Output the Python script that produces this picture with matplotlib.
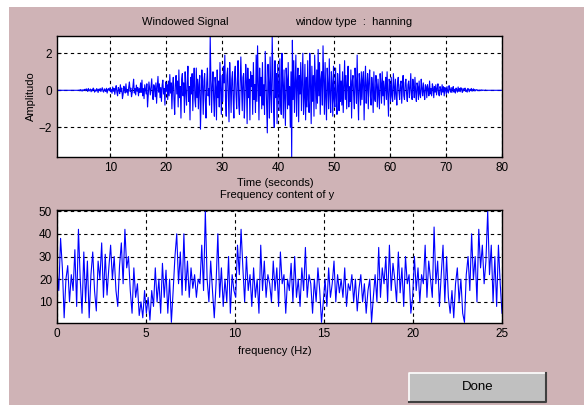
import numpy as np
from matplotlib import pyplot as plt
from matplotlib.patches import Rectangle

#Windowed signal in 5 second blocks (40 samples per block, 0.125 s apart)
amp_blocks = [
    [0] * 32 + [0.02, -0.03, 0.04, 0.01, -0.05, 0.03, -0.02, 0.04],
    [0.05, -0.02, 0.08, 0.03, -0.06, 0.1, -0.04, 0.02, 0.07, -0.08, 0.04, -0.03, 0.12, 0.05, -0.1, 0.02, -0.05, 0.09, 0.03, -0.12,
     0.06, -0.02, 0.1, -0.07, 0.04, 0.14, -0.05, -0.1, 0.08, 0.02, -0.06, 0.11, -0.15, 0.05, 0.09, -0.03, 0.13, -0.08, 0.04, -0.16],
    [0.18, -0.05, 0.1, -0.22, 0.05, 0.25, -0.12, -0.3, 0.15, 0.04, -0.18, 0.3, -0.08, 0.12, -0.45, -0.2, 0.22, 0.08, -0.15, 0.35,
     -0.1, 0.05, -0.28, 0.18, 0.45, -0.06, 0.12, -0.35, -0.12, 0.2, 0.6, -0.15, 0.1, -0.25, 0.28, -0.05, 0.15, -0.3, 0.08, -0.12],
    [0.4, -0.12, 0.55, -0.3, 0.1, -0.45, 0.3, 0.05, -0.2, 0.35, -0.9, -0.3, 0.45, 0.1, -0.25, 0.2, 0.62, -0.15, -0.5, 0.3,
     0.12, -0.35, 0.4, -0.7, 0.2, 0.75, -0.1, 0.35, -0.4, 0.15, -0.6, 0.28, 0.55, -0.2, 0.1, -0.8, 0.45, -0.05, 0.3, -0.5],
    [0.5, -0.3, 0.85, -0.15, 0.4, -1.0, 0.2, 0.7, -0.5, -1.3, 0.35, 0.8, -0.2, 0.5, -0.9, 1.1, -0.4, 0.2, -1.5, 0.6,
     0.9, -0.3, 0.4, -1.2, 1.0, -0.1, -0.8, 0.5, 1.3, -0.6, 0.2, -1.6, 0.7, -0.2, 0.9, -1.1, 0.3, 1.2, -0.5, -0.9],
    [1.2, -0.4, 0.6, -1.0, 0.3, 0.8, -2.1, -0.5, 1.1, 0.2, -1.3, 0.5, 0.9, -0.6, -1.5, 0.4, 1.2, -0.3, 0.1, -0.8,
     2.9, 0.6, -1.2, 0.3, 1.0, -0.5, -1.4, 0.7, 0.2, -1.6, 1.1, -0.4, 0.5, -0.9, 1.5, 0.2, -1.3, 0.8, -0.6, 1.3],
    [0.4, 1.9, -0.6, -1.4, 0.8, 1.2, -0.3, -1.7, 1.5, 0.3, -1.2, 0.6, 1.0, -0.5, -1.5, 0.9, 1.3, -0.2, -1.0, 0.5,
     1.6, -0.8, -1.3, 0.4, 1.8, 0.2, -1.1, 0.7, 0.9, -1.5, -0.3, 1.4, 0.5, -1.8, 1.2, -0.4, 0.6, -1.6, 1.0, 0.2],
    [0.8, -1.3, 1.5, -0.5, 0.3, -1.2, 1.9, -0.6, 2.4, 0.5, -1.6, 1.2, -0.3, 0.7, -1.0, 1.5, -0.8, 0.3, -1.3, 2.1,
     0.6, -0.9, -2.3, 1.4, 0.4, -1.5, 1.8, -0.2, -1.2, 2.9, 0.8, -1.0, -2.0, 1.6, -0.4, 0.9, -1.8, 1.4, 0.2, -1.1],
    [1.7, -0.6, -1.3, 2.0, 0.4, -1.5, 1.1, -0.3, -1.9, 1.2, 0.6, -1.0, 1.5, -0.8, 0.2, -2.0, 1.0, -3.6, 2.7, -0.5,
     1.6, -1.2, 0.3, 1.9, -1.4, 0.5, 1.2, -1.7, 0.8, -0.2, 1.5, -1.1, 0.4, 2.0, -1.3, -0.4, 1.4, -1.6, 0.7, -0.9],
    [1.6, -0.5, -1.2, 2.0, 0.3, -1.8, 1.3, -0.6, 0.8, -1.4, 1.9, 0.4, -1.0, 1.1, -0.7, 2.2, -0.3, 1.5, -1.3, 0.6,
     1.0, -0.8, 2.4, 0.5, -1.3, 1.5, -0.4, -1.6, 1.2, 0.3, -1.0, 1.7, -0.2, -1.2, 1.0, 0.4, -1.4, 1.3, -0.5, -0.9],
    [1.2, -0.4, -1.3, 0.9, 0.2, -1.1, 1.4, -0.6, 0.5, -0.8, 1.0, -1.2, 0.3, 1.6, -0.5, 0.8, -1.0, 0.4, 1.3, -0.9,
     0.2, -0.6, 1.1, -1.5, 0.5, 0.8, -0.3, -1.0, 1.2, 0.4, -0.7, 1.9, -0.2, -1.6, 0.9, 0.3, -0.8, 1.0, -0.5, 0.6],
    [1.0, -1.6, 0.4, 1.3, -0.7, 0.2, 0.9, -1.0, 0.5, 1.1, -0.3, -0.8, 0.7, 0.2, -1.2, 1.0, -0.4, -0.6, 0.8, 0.3,
     -0.9, 0.6, -0.2, -1.0, 0.9, 0.4, -0.7, 1.0, -0.3, 0.5, -0.8, 0.2, 0.7, -0.5, 1.0, -0.2, -1.4, 0.6, 0.3, -0.6],
    [0.7, -0.3, -0.6, 0.9, 0.2, -0.5, 0.6, -0.2, -0.8, 0.4, 0.7, -0.1, -0.5, 0.3, 0.5, -0.7, 0.2, 0.8, -0.3, -0.5,
     0.4, 0.6, -0.2, -0.6, 0.3, 0.5, -0.4, 0.1, 0.9, -0.3, -0.5, 0.6, 0.2, -0.4, 0.7, -0.1, -0.6, 0.4, 0.2, -0.5],
    [0.5, -0.2, -0.4, 0.6, 0.1, -0.3, 0.4, -0.1, -0.5, 0.3, 0.2, -0.4, 0.3, 0.05, -0.3, 0.5, -0.2, 0.1, -0.3, 0.35,
     0.15, -0.4, 0.2, -0.1, 0.3, -0.25, 0.1, 0.35, -0.2, -0.3, 0.2, 0.05, -0.25, 0.3, -0.1, 0.2, -0.3, 0.15, 0.05, -0.2],
    [0.2, -0.05, -0.15, 0.25, 0.05, -0.1, 0.15, -0.12, 0.08, 0.2, -0.1, 0.05, -0.15, 0.12, 0.02, -0.1, 0.18, -0.06, 0.1, -0.08,
     0.14, 0.03, -0.12, 0.1, -0.04, 0.08, 0.12, -0.06, 0.02, -0.1, 0.1, 0.04, -0.08, 0.06, -0.02, 0.1, -0.05, 0.03, 0.08, -0.04],
    [0.05, -0.03, 0.02, 0.04, -0.02, 0.01, -0.03, 0.02, 0.01, -0.02, 0.03, -0.01, 0.01, 0, -0.01, 0.02, 0, 0, 0, 0] + [0] * 20,
]

#Frequency content, one list per Hz (10 samples, 0.1 Hz apart)
spec_blocks = [
    [24, 15, 38, 25, 3, 20, 26, 10, 22, 15],
    [33, 8, 42, 20, 5, 32, 10, 28, 3, 22],
    [32, 15, 6, 28, 20, 36, 12, 31, 13, 25],
    [35, 20, 30, 15, 8, 26, 36, 18, 42, 25],
    [30, 15, 5, 25, 12, 18, 4, 10, 3, 15],
    [5, 12, 2, 15, 8, 25, 10, 20, 5, 27],
    [12, 24, 5, 20, 1, 15, 30, 40, 18, 32],
    [13, 40, 15, 28, 12, 25, 16, 22, 12, 20],
    [18, 35, 15, 50, 20, 10, 28, 15, 3, 18],
    [40, 12, 25, 8, 20, 10, 30, 5, 22, 15],
    [12, 35, 22, 42, 25, 10, 30, 15, 22, 8],
    [25, 12, 20, 5, 35, 15, 28, 12, 22, 18],
    [10, 28, 15, 25, 8, 32, 18, 22, 5, 20],
    [15, 27, 10, 30, 12, 20, 8, 25, 15, 34],
    [12, 22, 18, 5, 20, 10, 25, 15, 1, 10],
    [20, 8, 25, 12, 18, 28, 10, 22, 14, 20],
    [12, 25, 8, 18, 15, 22, 10, 20, 6, 16],
    [22, 10, 18, 5, 15, 20, 1, 12, 22, 10],
    [34, 12, 25, 18, 30, 10, 35, 15, 27, 20],
    [10, 32, 14, 25, 8, 30, 18, 22, 5, 12],
    [30, 15, 25, 10, 22, 18, 35, 12, 28, 20],
    [12, 43, 18, 28, 8, 22, 35, 10, 30, 12],
    [5, 15, 3, 18, 25, 10, 20, 5, 1, 22],
    [30, 15, 40, 20, 30, 10, 42, 25, 35, 18],
    [28, 50, 22, 35, 10, 30, 8, 35, 18, 5],
]

amp = np.concatenate(amp_blocks)
t = np.linspace(0.5, 80, len(amp))
spec = np.concatenate(spec_blocks)
freq = np.linspace(0, 25, len(spec))

bg = '#cfb3b6'
plt.rcParams['font.family'] = ['Liberation Sans', 'DejaVu Sans']
plt.rcParams['font.size'] = 8

fig = plt.figure(figsize=(5.84, 4.05), dpi=100)
fig.patch.set_facecolor('white')
#Pink window area (white strip along the left and top edges)
fig.add_artist(Rectangle((9 / 584, 0), 1, 1 - 7 / 405, transform=fig.transFigure,
                         facecolor=bg, edgecolor='none', zorder=-10))

def grid_style(ax):
    ax.set_facecolor('white')
    ax.grid(True, color='black', linestyle=(0, (3, 3)), linewidth=0.8)
    ax.tick_params(direction='in', length=3, colors='black', labelsize=8.5)
    for s in ax.spines.values():
        s.set_linewidth(1.0)

#Top axes: windowed signal
ax1 = fig.add_axes([57 / 584, 1 - 157 / 405, 445 / 584, 121 / 405])
ax1.plot(t, amp, color='blue', linewidth=0.8)
ax1.set_xlim(0.5, 80)
ax1.set_ylim(-3.6, 2.93)
ax1.set_xticks([10, 20, 30, 40, 50, 60, 70, 80])
ax1.set_yticks([-2, 0, 2])
grid_style(ax1)
ax1.set_ylabel('Amplitudo', labelpad=2)
ax1.set_xlabel('Time (seconds)')
ax1.xaxis.set_label_coords(0.49, -0.17)
fig.text(185 / 584, 1 - 22 / 405, 'Windowed Signal', ha='center', va='center', fontsize=8)
fig.text(354 / 584, 1 - 22 / 405, 'window type  :  hanning', ha='center', va='center', fontsize=8)

#Bottom axes: frequency content
ax2 = fig.add_axes([57 / 584, 1 - 323 / 405, 445 / 584, 113 / 405])
ax2.plot(freq, spec, color='blue', linewidth=0.8)
ax2.set_xlim(0, 25)
ax2.set_ylim(0.7, 50.5)
ax2.set_xticks([0, 5, 10, 15, 20, 25])
ax2.set_yticks([10, 20, 30, 40, 50])
grid_style(ax2)
ax2.set_xlabel('frequency (Hz)')
ax2.xaxis.set_label_coords(0.49, -0.2)
fig.text(277 / 584, 1 - 195 / 405, 'Frequency content of y', ha='center', va='center', fontsize=8)

#Done button
x0, y0, w, h = 409 / 584, 1 - 402 / 405, 137 / 584, 29 / 405
fig.add_artist(Rectangle((x0, y0), w, h, transform=fig.transFigure,
                         facecolor='#c0c0c0', edgecolor='none'))
fig.add_artist(plt.Line2D([x0, x0, x0 + w], [y0, y0 + h, y0 + h], transform=fig.transFigure,
                          color='white', linewidth=1.2))
fig.add_artist(plt.Line2D([x0, x0 + w, x0 + w], [y0, y0, y0 + h], transform=fig.transFigure,
                          color='#404040', linewidth=1.5))
fig.text(x0 + w / 2, y0 + h / 2, 'Done', ha='center', va='center', fontsize=9.5)

fig.savefig('out.png', dpi=100, facecolor=fig.get_facecolor())
